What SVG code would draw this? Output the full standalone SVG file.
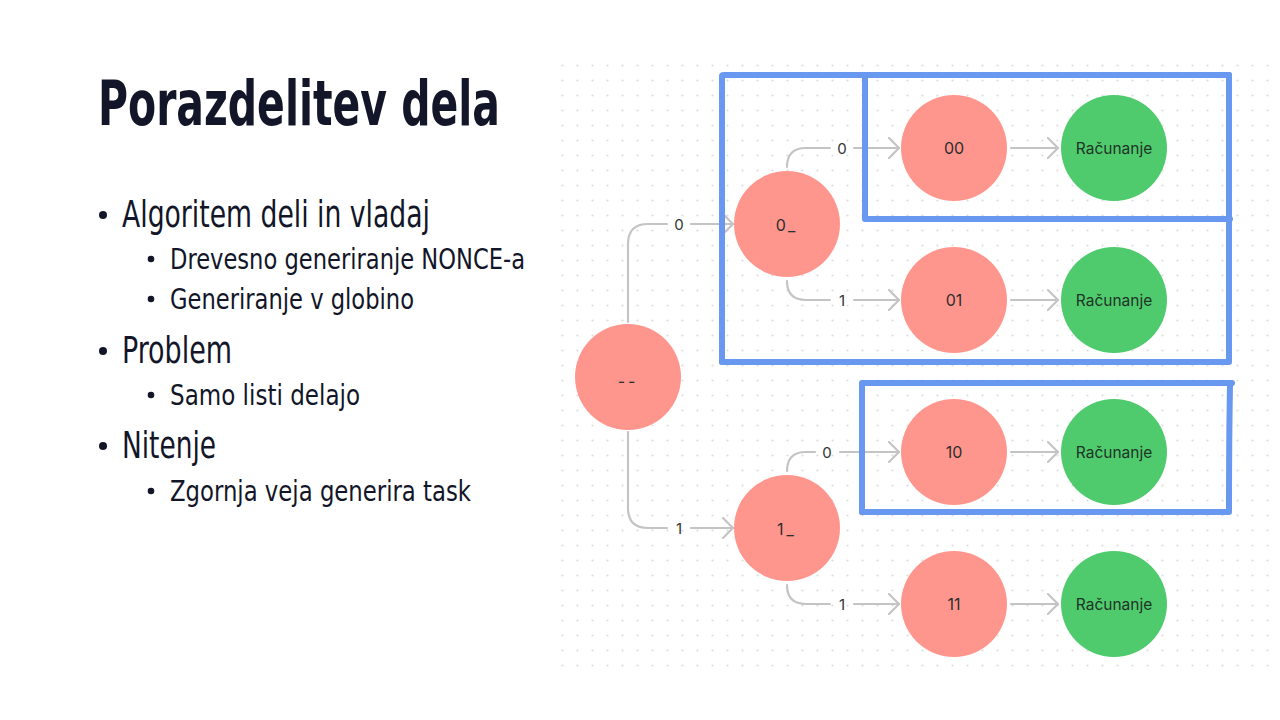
<svg xmlns="http://www.w3.org/2000/svg" width="1280" height="720" viewBox="0 0 1280 720">
  <defs>
    <pattern id="dots" x="555" y="58" width="15" height="15" patternUnits="userSpaceOnUse">
      <circle cx="7.5" cy="7.5" r="1.1" fill="#dcdcdc"/>
    </pattern>
    <marker id="chev" viewBox="0 0 12 22" refX="11" refY="11" markerWidth="12" markerHeight="22" markerUnits="userSpaceOnUse" orient="auto">
      <path d="M1,1 L11,11 L1,21" fill="none" stroke="#c4c4c4" stroke-width="2.2" stroke-linecap="round" stroke-linejoin="round"/>
    </marker>
    <style>
      .title { font-family: "Liberation Sans Narrow", "DejaVu Sans Condensed", "Liberation Sans", sans-serif; font-weight: bold; fill: #121628; }
      .l1 { font-family: "Liberation Sans Narrow", "DejaVu Sans Condensed", "Liberation Sans", sans-serif; font-size: 38px; fill: #121628; }
      .l2 { font-family: "Liberation Sans Narrow", "DejaVu Sans Condensed", "Liberation Sans", sans-serif; font-size: 29px; fill: #121628; }
      .red { fill: #ff968e; }
      .green { fill: #4fcb6e; }
      .nlabel { font-family: Inter, "Liberation Sans", sans-serif; font-size: 16px; fill: #2d2d2d; text-anchor: middle; dominant-baseline: central; }
      .glabel { font-family: Inter, "Liberation Sans", sans-serif; font-size: 15.5px; fill: #1f3326; text-anchor: middle; dominant-baseline: central; }
      .elabel { font-family: Inter, "Liberation Sans", sans-serif; font-size: 15px; fill: #333; text-anchor: middle; dominant-baseline: central; }
      .edge { fill: none; stroke: #c4c4c4; stroke-width: 2.2; stroke-linecap: round; }
      .hl { fill: none; stroke: #6898ef; stroke-width: 6; stroke-linecap: round; stroke-linejoin: round; }
    </style>
  </defs>

  <rect width="1280" height="720" fill="#ffffff"/>

  <!-- slide text -->
  <g id="slide-text">
    <text class="title" x="98" y="125" font-size="62" textLength="402" lengthAdjust="spacingAndGlyphs">Porazdelitev dela</text>
    <circle cx="103" cy="215" r="4" fill="#121628"/>
    <text class="l1" x="122" y="227" textLength="308" lengthAdjust="spacingAndGlyphs">Algoritem deli in vladaj</text>
    <circle cx="151" cy="259" r="3.3" fill="#121628"/>
    <text class="l2" x="170" y="269" textLength="355" lengthAdjust="spacingAndGlyphs">Drevesno generiranje NONCE-a</text>
    <circle cx="151" cy="299" r="3.3" fill="#121628"/>
    <text class="l2" x="170" y="309" textLength="244" lengthAdjust="spacingAndGlyphs">Generiranje v globino</text>
    <circle cx="103" cy="351" r="4" fill="#121628"/>
    <text class="l1" x="122" y="363" textLength="110" lengthAdjust="spacingAndGlyphs">Problem</text>
    <circle cx="151" cy="395" r="3.3" fill="#121628"/>
    <text class="l2" x="170" y="405" textLength="190" lengthAdjust="spacingAndGlyphs">Samo listi delajo</text>
    <circle cx="103" cy="446" r="4" fill="#121628"/>
    <text class="l1" x="122" y="458" textLength="94" lengthAdjust="spacingAndGlyphs">Nitenje</text>
    <circle cx="151" cy="491" r="3.3" fill="#121628"/>
    <text class="l2" x="170" y="501" textLength="301" lengthAdjust="spacingAndGlyphs">Zgornja veja generira task</text>
  </g>

  <!-- canvas background -->
  <rect x="555" y="58" width="725" height="620" fill="url(#dots)"/>

  <!-- connectors -->
  <g id="connectors">
    <path class="edge" d="M628,322 V244 Q628,224 648,224 H667"/>
    <text class="elabel" x="679" y="224">0</text>
    <path class="edge" d="M691,224 H733" marker-end="url(#chev)"/>

    <path class="edge" d="M628,432 V508 Q628,528 648,528 H667"/>
    <text class="elabel" x="679" y="528">1</text>
    <path class="edge" d="M691,528 H733" marker-end="url(#chev)"/>

    <path class="edge" d="M787,167 Q787,148 806,148 H830"/>
    <text class="elabel" x="842" y="148">0</text>
    <path class="edge" d="M854,148 H899" marker-end="url(#chev)"/>

    <path class="edge" d="M787,281 Q787,300 806,300 H830"/>
    <text class="elabel" x="842" y="300">1</text>
    <path class="edge" d="M854,300 H899" marker-end="url(#chev)"/>

    <path class="edge" d="M787,471 Q787,452 806,452 H815"/>
    <text class="elabel" x="827" y="452">0</text>
    <path class="edge" d="M840,452 H899" marker-end="url(#chev)"/>

    <path class="edge" d="M787,585 Q787,604 806,604 H830"/>
    <text class="elabel" x="842" y="604">1</text>
    <path class="edge" d="M854,604 H899" marker-end="url(#chev)"/>

    <path class="edge" d="M1011,148 H1058" marker-end="url(#chev)"/>
    <path class="edge" d="M1011,300 H1058" marker-end="url(#chev)"/>
    <path class="edge" d="M1011,452 H1058" marker-end="url(#chev)"/>
    <path class="edge" d="M1011,604 H1058" marker-end="url(#chev)"/>
  </g>

  <!-- nodes -->
  <g id="node-root"><circle class="red" cx="628" cy="377" r="53"/><text class="nlabel" x="628" y="381" letter-spacing="3">--</text></g>
  <g id="node-0"><circle class="red" cx="787" cy="224" r="53"/><text class="nlabel" x="787" y="225" letter-spacing="3">0_</text></g>
  <g id="node-1"><circle class="red" cx="787" cy="528" r="53"/><text class="nlabel" x="787" y="529" letter-spacing="3">1_</text></g>
  <g id="node-00"><circle class="red" cx="954" cy="148" r="53"/><text class="nlabel" x="954" y="148">00</text></g>
  <g id="node-01"><circle class="red" cx="954" cy="300" r="53"/><text class="nlabel" x="954" y="300">01</text></g>
  <g id="node-10"><circle class="red" cx="954" cy="452" r="53"/><text class="nlabel" x="954" y="452">10</text></g>
  <g id="node-11"><circle class="red" cx="954" cy="604" r="53"/><text class="nlabel" x="954" y="604">11</text></g>
  <g id="calc-00"><circle class="green" cx="1114" cy="148" r="53"/><text class="glabel" x="1114" y="148">Računanje</text></g>
  <g id="calc-01"><circle class="green" cx="1114" cy="300" r="53"/><text class="glabel" x="1114" y="300">Računanje</text></g>
  <g id="calc-10"><circle class="green" cx="1114" cy="452" r="53"/><text class="glabel" x="1114" y="452">Računanje</text></g>
  <g id="calc-11"><circle class="green" cx="1114" cy="604" r="53"/><text class="glabel" x="1114" y="604">Računanje</text></g>

  <!-- hand-drawn highlight boxes -->
  <g id="highlights">
    <path class="hl" d="M722,362 V76 Q722,75 724,75 H1229"/>
    <path class="hl" d="M1229,75 V362 H722"/>
    <path class="hl" d="M865,76 V219 H1230"/>
    <path class="hl" d="M862,512 V383 H1232"/>
    <path class="hl" d="M1230,385 Q1229,440 1229,512 H862"/>
  </g>
</svg>
